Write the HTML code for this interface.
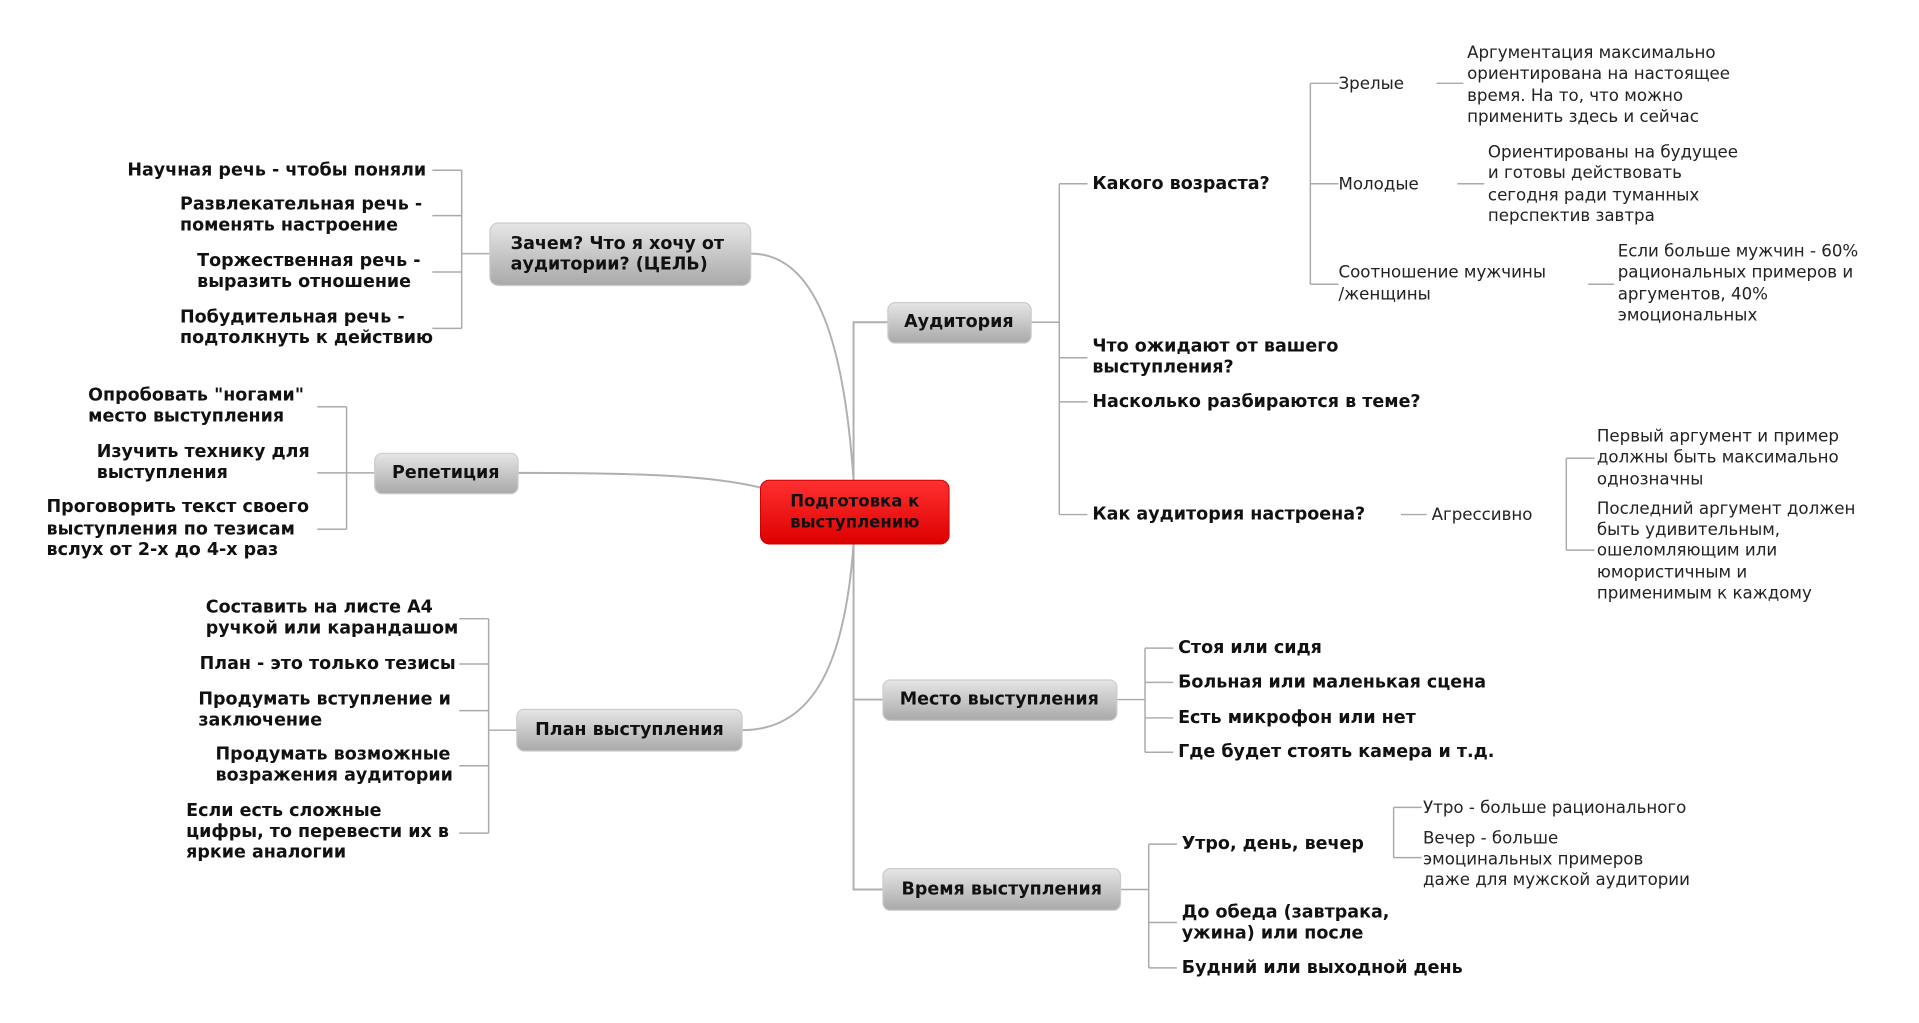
<!DOCTYPE html>
<html><head><meta charset="utf-8"><style>
html,body{margin:0;padding:0;background:#fff;}
svg{display:block;}
text{font-family:"DejaVu Sans","Liberation Sans",sans-serif;fill:#111;dominant-baseline:central;}
.b{font-weight:bold;font-size:14.3px;}
.n{font-size:13.6px;fill:#222;}
.l{stroke:#aaa;stroke-width:1.2;fill:none;}
.c{stroke:#b0b0b0;stroke-width:1.6;fill:none;}
</style></head><body>
<svg width="1919" height="1023" viewBox="0 0 1567 835" preserveAspectRatio="none">
<defs>
<linearGradient id="g" x1="0" y1="0" x2="0" y2="1"><stop offset="0" stop-color="#e6e6e6"/><stop offset="1" stop-color="#a9a9a9"/></linearGradient>
<linearGradient id="r" x1="0" y1="0" x2="0" y2="1"><stop offset="0" stop-color="#ff3030"/><stop offset="1" stop-color="#dd0000"/></linearGradient>
</defs>
<path class="c" d="M697,392 C690,290 670,207 613,207"/>
<path class="c" d="M621,398 C580,388 520,386 423,386"/>
<path class="c" d="M697,444 C690,540 665,596 606,596"/>
<path class="c" d="M697,392 L697,263 Q697,263 725,263"/>
<path class="c" d="M697,444 L697,726 L721,726 M697,571 L721,571"/>
<path class="l" d="M842,263 H865 M865,150 V420 M865,150 H888 M865,292 H888 M865,328 H888 M865,420 H888"/>
<path class="l" d="M1070,68 V232 M1070,68 H1093 M1070,150 H1093 M1070,232 H1093 M1173,68 H1195 M1190,150 H1212 M1297,232 H1318"/>
<path class="l" d="M1144,420 H1165 M1279,374 V449 M1279,374 H1302 M1279,449 H1302"/>
<path class="l" d="M377,207 H400 M377,139 V268 M353,139 H377 M353,176 H377 M353,222 H377 M353,268 H377"/>
<path class="l" d="M283,386 H306 M283,332 V432 M259,332 H283 M259,386 H283 M259,432 H283"/>
<path class="l" d="M399,596 H422 M399,505 V680 M375,505 H399 M375,542 H399 M375,580 H399 M375,625 H399 M375,680 H399"/>
<path class="l" d="M912,571 H935 M935,529 V614 M935,529 H958 M935,557 H958 M935,586 H958 M935,614 H958"/>
<path class="l" d="M915,726 H938 M938,689 V790 M938,689 H961 M938,753 H961 M938,790 H961 M1138,659 V700 M1138,659 H1161 M1138,700 H1161"/>
<rect x="621" y="392" width="154" height="52" rx="7" fill="url(#r)" stroke="#c00" stroke-width="0.8"/>
<text class="b" x="698" y="409" text-anchor="middle" style="font-size:13.5px">Подготовка к</text>
<text class="b" x="698" y="426" text-anchor="middle" style="font-size:13.5px">выступлению</text>
<rect x="400" y="182" width="213" height="51" rx="7" fill="url(#g)" stroke="#ccc"/>
<text class="b" x="417" y="199">Зачем? Что я хочу от</text>
<text class="b" x="417" y="216">аудитории? (ЦЕЛЬ)</text>
<rect x="306" y="370" width="117" height="33" rx="6" fill="url(#g)" stroke="#ccc"/>
<text class="b" x="364" y="386" text-anchor="middle">Репетиция</text>
<rect x="422" y="579" width="184" height="34" rx="6" fill="url(#g)" stroke="#ccc"/>
<text class="b" x="514" y="596" text-anchor="middle">План выступления</text>
<rect x="725" y="247" width="117" height="33" rx="6" fill="url(#g)" stroke="#ccc"/>
<text class="b" x="783" y="263" text-anchor="middle">Аудитория</text>
<rect x="721" y="555" width="191" height="33" rx="6" fill="url(#g)" stroke="#ccc"/>
<text class="b" x="816" y="571" text-anchor="middle">Место выступления</text>
<rect x="721" y="709" width="194" height="34" rx="6" fill="url(#g)" stroke="#ccc"/>
<text class="b" x="818" y="726" text-anchor="middle">Время выступления</text>
<text class="b" x="104" y="139">Научная речь - чтобы поняли</text>
<text class="b" x="147" y="167">Развлекательная речь -</text>
<text class="b" x="147" y="184">поменять настроение</text>
<text class="b" x="161" y="213">Торжественная речь -</text>
<text class="b" x="161" y="230">выразить отношение</text>
<text class="b" x="147" y="259">Побудительная речь -</text>
<text class="b" x="147" y="276">подтолкнуть к действию</text>
<text class="b" x="72" y="323">Опробовать "ногами"</text>
<text class="b" x="72" y="340">место выступления</text>
<text class="b" x="79" y="369">Изучить технику для</text>
<text class="b" x="79" y="386">выступления</text>
<text class="b" x="38" y="414">Проговорить текст своего</text>
<text class="b" x="38" y="432">выступления по тезисам</text>
<text class="b" x="38" y="449">вслух от 2-х до 4-х раз</text>
<text class="b" x="168" y="496">Составить на листе А4</text>
<text class="b" x="168" y="513">ручкой или карандашом</text>
<text class="b" x="163" y="542">План - это только тезисы</text>
<text class="b" x="162" y="571">Продумать вступление и</text>
<text class="b" x="162" y="588">заключение</text>
<text class="b" x="176" y="616">Продумать возможные</text>
<text class="b" x="176" y="633">возражения аудитории</text>
<text class="b" x="152" y="662">Если есть сложные</text>
<text class="b" x="152" y="679">цифры, то перевести их в</text>
<text class="b" x="152" y="696">яркие аналогии</text>
<text class="b" x="892" y="150">Какого возраста?</text>
<text class="b" x="892" y="283">Что ожидают от вашего</text>
<text class="b" x="892" y="300">выступления?</text>
<text class="b" x="892" y="328">Насколько разбираются в теме?</text>
<text class="b" x="892" y="420">Как аудитория настроена?</text>
<text class="n" x="1093" y="68">Зрелые</text>
<text class="n" x="1093" y="150">Молодые</text>
<text class="n" x="1093" y="222">Соотношение мужчины</text>
<text class="n" x="1093" y="240">/женщины</text>
<text class="n" x="1198" y="43">Аргументация максимально</text>
<text class="n" x="1198" y="60">ориентирована на настоящее</text>
<text class="n" x="1198" y="78">время. На то, что можно</text>
<text class="n" x="1198" y="95">применить здесь и сейчас</text>
<text class="n" x="1215" y="124">Ориентированы на будущее</text>
<text class="n" x="1215" y="141">и готовы действовать</text>
<text class="n" x="1215" y="159">сегодня ради туманных</text>
<text class="n" x="1215" y="176">перспектив завтра</text>
<text class="n" x="1321" y="205">Если больше мужчин - 60%</text>
<text class="n" x="1321" y="222">рациональных примеров и</text>
<text class="n" x="1321" y="240">аргументов, 40%</text>
<text class="n" x="1321" y="257">эмоциональных</text>
<text class="n" x="1169" y="420">Агрессивно</text>
<text class="n" x="1304" y="356">Первый аргумент и пример</text>
<text class="n" x="1304" y="373">должны быть максимально</text>
<text class="n" x="1304" y="391">однозначны</text>
<text class="n" x="1304" y="415">Последний аргумент должен</text>
<text class="n" x="1304" y="432">быть удивительным,</text>
<text class="n" x="1304" y="449">ошеломляющим или</text>
<text class="n" x="1304" y="467">юмористичным и</text>
<text class="n" x="1304" y="484">применимым к каждому</text>
<text class="b" x="962" y="529">Стоя или сидя</text>
<text class="b" x="962" y="557">Больная или маленькая сцена</text>
<text class="b" x="962" y="586">Есть микрофон или нет</text>
<text class="b" x="962" y="614">Где будет стоять камера и т.д.</text>
<text class="b" x="965" y="689">Утро, день, вечер</text>
<text class="b" x="965" y="745">До обеда (завтрака,</text>
<text class="b" x="965" y="762">ужина) или после</text>
<text class="b" x="965" y="790">Будний или выходной день</text>
<text class="n" x="1162" y="659">Утро - больше рационального</text>
<text class="n" x="1162" y="684">Вечер - больше</text>
<text class="n" x="1162" y="701">эмоцинальных примеров</text>
<text class="n" x="1162" y="718">даже для мужской аудитории</text>
</svg>
</body></html>
